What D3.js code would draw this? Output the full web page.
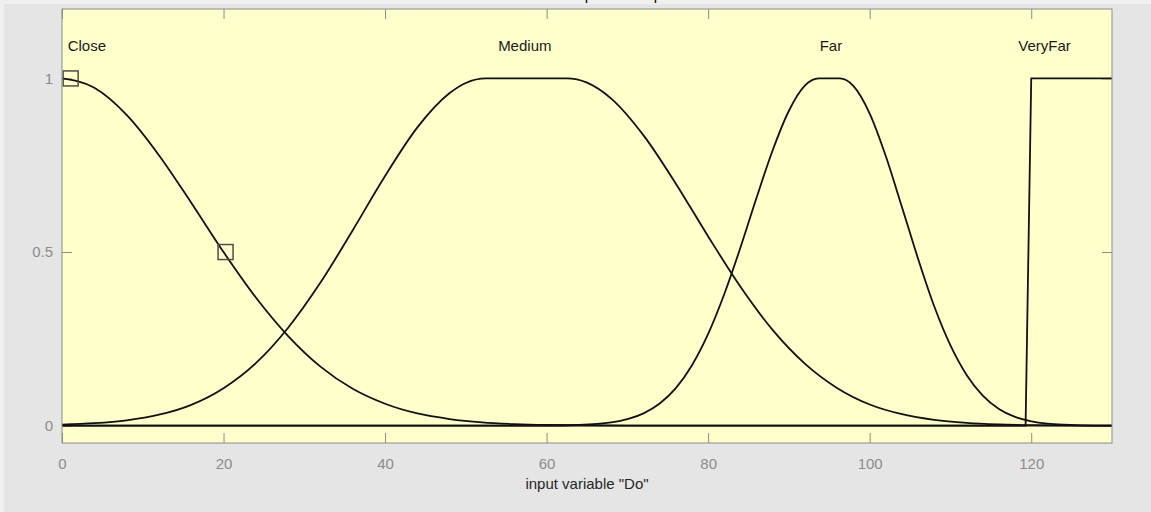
<!DOCTYPE html>
<html>
<head>
<meta charset="utf-8">
<script src="https://cdn.jsdelivr.net/npm/d3@7"></script>
<style>
    html, body { margin: 0; padding: 0; background: #f0f0f0; }
    svg { display: block; font-family: "Liberation Sans", Arial, sans-serif; }
</style>
</head>
<body>
<div id="chart"></div>
<script>
// Membership functions of input variable "Do"
const mfNames = ['Close', 'Medium', 'Far', 'VeryFar'];

const closeX = [0, 4, 8, 12, 16, 20, 24, 28, 32, 36, 40, 44, 48, 52, 56, 60, 70, 130];
const closeY = [1, 0.973, 0.895, 0.779, 0.642, 0.5, 0.369, 0.258, 0.17, 0.106, 0.063, 0.035, 0.019, 0.0093, 0.0044, 0.002, 0.0002, 0];

const mediumX = [0, 4, 8, 12, 16, 20, 24, 28, 32, 36, 40, 44, 48, 50, 52.5, 62.5, 65, 68, 72, 76, 80, 84, 88, 92, 96, 100, 104, 108, 112, 116, 120, 124, 130];
const mediumY = [0.003, 0.007, 0.0153, 0.0314, 0.06, 0.108, 0.18, 0.282, 0.412, 0.563, 0.719, 0.859, 0.958, 0.987, 1, 1, 0.988, 0.942, 0.836, 0.697, 0.545, 0.4, 0.275, 0.178, 0.108, 0.061, 0.033, 0.0165, 0.0077, 0.0034, 0.0014, 0.0005, 0.0001];

const farX = [0, 40, 60, 64, 68, 70, 72, 74, 76, 78, 80, 82, 84, 86, 88, 90, 92, 93.7, 96.3, 98, 100, 102, 104, 106, 108, 110, 112, 114, 116, 118, 120, 122, 124, 126, 130];
const farY = [0, 0, 0.0003, 0.0019, 0.0092, 0.0186, 0.0354, 0.0638, 0.108, 0.174, 0.264, 0.379, 0.513, 0.657, 0.794, 0.907, 0.98, 1, 1, 0.978, 0.899, 0.776, 0.629, 0.48, 0.343, 0.231, 0.146, 0.0865, 0.048, 0.025, 0.0124, 0.0057, 0.0025, 0.001, 0.0001];

const veryFarX = [0, 119.3, 120, 130];
const veryFarY = [0, 0, 1, 1];

// where each name is written, and how it is anchored
const labelX = [0.7, 57.3, 95.2, 124.9];
const labelAnchor = ['start', 'middle', 'middle', 'end'];
const labelY = 1.08;

// parameter markers of the selected function
const markerX = [1.07, 20.25];
const markerY = [1, 0.5];

const xTicks = [0, 20, 40, 60, 80, 100, 120];
const xTickLabels = ['0', '20', '40', '60', '80', '100', '120'];
const yTicks = [0, 0.5, 1];
const yTickLabels = ['0', '0.5', '1'];

const xDomain = [0, 130];
const yDomain = [-0.05, 1.2];
const xLabel = 'input variable "Do"';
const titleText = 'membership function plots';

(function() {
    'use strict';

    const width = 1151;
    const height = 512;
    const margin = { top: 9, right: 39, bottom: 69, left: 62 };
    const plotW = width - margin.left - margin.right;
    const plotH = height - margin.top - margin.bottom;
    const frameColor = '#8c8c8c';

    const svg = d3.select('#chart')
        .append('svg')
        .attr('width', width)
        .attr('height', height);

    // figure background (light strip at top/left, grey panel)
    svg.append('rect')
        .attr('width', width).attr('height', height)
        .attr('fill', '#f0f0f0');
    svg.append('rect')
        .attr('x', 4).attr('y', 4)
        .attr('width', width - 4).attr('height', height - 4)
        .attr('fill', '#e5e5e5');

    // title is scrolled off the top of the window, only its descenders show
    svg.append('text')
        .attr('x', 598)
        .attr('y', 0)
        .attr('text-anchor', 'middle')
        .attr('font-size', '15px')
        .attr('fill', '#000')
        .text(titleText);

    const xScale = d3.scaleLinear().domain(xDomain).range([0, plotW]);
    const yScale = d3.scaleLinear().domain(yDomain).range([plotH, 0]);

    const g = svg.append('g')
        .attr('transform', `translate(${margin.left},${margin.top})`);

    g.append('rect')
        .attr('width', plotW).attr('height', plotH)
        .attr('fill', '#ffffcc');

    g.append('clipPath').attr('id', 'plot-clip')
        .append('rect').attr('width', plotW).attr('height', plotH);

    // axes: ticks point inward, like MATLAB
    const styleAxis = (sel) => {
        sel.select('.domain').remove();
        sel.selectAll('line').attr('stroke', frameColor);
        sel.selectAll('text')
            .attr('fill', frameColor)
            .attr('font-size', '15px')
            .attr('font-family', '"Liberation Sans", Arial, sans-serif');
    };

    g.append('g')
        .attr('transform', `translate(0,${plotH})`)
        .call(d3.axisBottom(xScale)
            .tickValues(xTicks)
            .tickFormat((d, i) => xTickLabels[i])
            .tickSize(-10)
            .tickPadding(15))
        .call(styleAxis);

    g.append('g')
        .call(d3.axisTop(xScale).tickValues(xTicks).tickFormat('').tickSize(-10))
        .call(styleAxis);

    g.append('g')
        .call(d3.axisLeft(yScale)
            .tickValues(yTicks)
            .tickFormat((d, i) => yTickLabels[i])
            .tickSize(-10)
            .tickPadding(9))
        .call(styleAxis);

    g.append('g')
        .attr('transform', `translate(${plotW},0)`)
        .call(d3.axisRight(yScale).tickValues(yTicks).tickFormat('').tickSize(-10))
        .call(styleAxis);

    // curves
    const series = [
        { xs: closeX, ys: closeY },
        { xs: mediumX, ys: mediumY },
        { xs: farX, ys: farY },
        { xs: veryFarX, ys: veryFarY, linear: true }
    ];

    const curves = g.append('g').attr('clip-path', 'url(#plot-clip)');

    series.forEach(s => {
        const pts = s.xs.map((x, i) => [x, s.ys[i]]);
        const line = d3.line()
            .x(d => xScale(d[0]))
            .y(d => yScale(d[1]))
            .curve(s.linear ? d3.curveLinear : d3.curveMonotoneX);
        curves.append('path')
            .datum(pts)
            .attr('fill', 'none')
            .attr('stroke', '#111')
            .attr('stroke-width', 1.8)
            .attr('stroke-linejoin', 'round')
            .attr('d', line);
    });

    // parameter markers
    const boxSize = 15;
    g.selectAll('rect.marker')
        .data(markerX.map((x, i) => [x, markerY[i]]))
        .enter()
        .append('rect')
        .attr('class', 'marker')
        .attr('x', d => xScale(d[0]) - boxSize / 2)
        .attr('y', d => yScale(d[1]) - boxSize / 2)
        .attr('width', boxSize)
        .attr('height', boxSize)
        .attr('fill', 'none')
        .attr('stroke', '#4d4d4d')
        .attr('stroke-width', 1.5);

    // function names
    g.selectAll('text.mf-name')
        .data(mfNames)
        .enter()
        .append('text')
        .attr('class', 'mf-name')
        .attr('x', (d, i) => xScale(labelX[i]))
        .attr('y', yScale(labelY))
        .attr('text-anchor', (d, i) => labelAnchor[i])
        .attr('font-size', '15px')
        .attr('fill', '#1a1a1a')
        .text(d => d);

    // frame
    g.append('rect')
        .attr('width', plotW).attr('height', plotH)
        .attr('fill', 'none')
        .attr('stroke', frameColor)
        .attr('stroke-width', 1);

    svg.append('text')
        .attr('x', margin.left + plotW / 2)
        .attr('y', 489)
        .attr('text-anchor', 'middle')
        .attr('font-size', '15px')
        .attr('fill', '#262626')
        .text(xLabel);
})();
</script>
</body>
</html>
